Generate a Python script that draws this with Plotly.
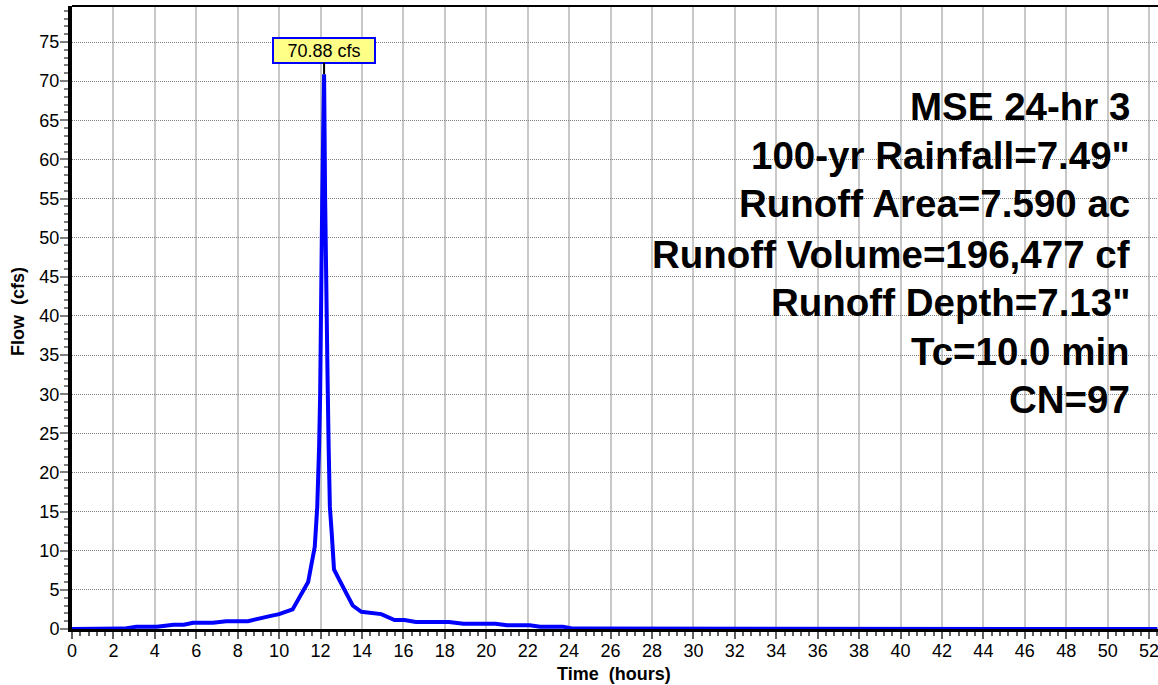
import plotly.graph_objects as go

# Hydrograph (time in hours, flow in cfs)
time_hr = [0, 2.5, 3.1, 4.1, 4.9, 5.4, 5.85, 6.8, 7.45, 8.5, 9.55, 10.0, 10.65,
           10.85, 11.4, 11.72, 11.76, 11.84, 11.93, 11.98, 12.08, 12.17,
           12.22, 12.28, 12.34, 12.39, 12.45, 12.54, 12.65, 12.9, 13.55, 13.97,
           14.93, 15.57, 16.05, 16.6, 18.2, 18.9, 20.45, 21.0, 22.1, 22.6,
           23.7, 24.2, 52.4]
flow_cfs = [0, 0.05, 0.3, 0.3, 0.55, 0.55, 0.8, 0.8, 1.0, 1.0, 1.65, 1.9, 2.5,
            3.5, 6.0, 10.5, 12.2, 15.6, 23.3, 30.0, 55.0, 70.88,
            55.0, 36.0, 31.8, 23.3, 15.6, 12.2, 7.6, 6.3, 3.0, 2.2,
            1.9, 1.15, 1.15, 0.9, 0.9, 0.68, 0.68, 0.47, 0.47, 0.3,
            0.3, 0.05, 0]

peak_time = 12.17
peak_flow = 70.88
peak_label = "70.88 cfs"

info_lines = ["MSE 24-hr 3", "100-yr Rainfall=7.49\"", "Runoff Area=7.590 ac",
              "Runoff Volume=196,477 cf", "Runoff Depth=7.13\"", "Tc=10.0 min", "CN=97"]

x_ticks = list(range(0, 53, 2))
y_ticks = list(range(0, 80, 5))

FONT = "Liberation Sans, Arial, sans-serif"

W, H = 1158, 685
ML, MR, MT, MB = 72, 0, 6, 56
PW = W - ML - MR
PH = H - MT - MB


def px_x(px):
    return (px - ML) / PW


def px_y(py):
    return (H - MB - py) / PH


fig = go.Figure()
fig.add_trace(go.Scatter(x=time_hr, y=flow_cfs, mode="lines",
                         line=dict(color="#0000ff", width=4),
                         hoverinfo="skip", showlegend=False))

fig.update_xaxes(
    range=[0, 52.43], tickmode="array", tickvals=x_ticks,
    ticktext=[str(v) for v in x_ticks],
    ticks="outside", ticklen=7, tickwidth=2, tickcolor="#606060",
    tickfont=dict(family=FONT, size=18, color="#000"),
    ticklabelstandoff=-4, ticklabeloverflow="allow",
    showline=True, linecolor="#000", linewidth=3,
    showgrid=True, gridcolor="#c8c8c8", gridwidth=1.5,
    zeroline=False,
    minor=dict(dtick=0.4, tick0=0, ticks="outside", ticklen=4, tickwidth=2,
               tickcolor="#606060", showgrid=False),
)
fig.update_yaxes(
    range=[0, 79.6], tickmode="array", tickvals=y_ticks,
    ticktext=[str(v) for v in y_ticks],
    ticks="outside", ticklen=8, tickwidth=2, tickcolor="#808080",
    tickfont=dict(family=FONT, size=18, color="#000"),
    ticklabelstandoff=-3,
    showline=True, linecolor="#000", linewidth=4,
    showgrid=True, gridcolor="#808080", gridwidth=1, griddash="1px,1px",
    zeroline=False,
    minor=dict(dtick=1, tick0=0, ticks="outside", ticklen=4, tickwidth=2,
               tickcolor="#808080", showgrid=False),
)

annotations = []
# peak label
annotations.append(dict(
    x=peak_time, y=peak_flow, xref="x", yref="y", text=peak_label,
    showarrow=True, arrowhead=0, arrowwidth=2, arrowcolor="#000",
    ax=0, ay=-24, standoff=0,
    font=dict(family=FONT, size=18, color="#000"),
    bgcolor="#ffff88", bordercolor="#0000ff", borderwidth=2, borderpad=2,
    width=96, height=19,
))

# info text block
line_centers = [106.0, 155.5, 204.0, 254.0, 302.5, 351.0, 399.5]
for txt, cy in zip(info_lines, line_centers):
    annotations.append(dict(
        x=px_x(1132), y=px_y(cy), xref="paper", yref="paper",
        xanchor="right", yanchor="middle", showarrow=False,
        text="<b>" + txt + "</b>",
        font=dict(family=FONT, size=38.5, color="#000"),
    ))

# axis titles
annotations.append(dict(
    x=px_x(614), y=px_y(674), xref="paper", yref="paper",
    xanchor="center", yanchor="middle", showarrow=False,
    text="<b>Time\u00a0 (hours)</b>",
    font=dict(family=FONT, size=18, color="#000"),
))
annotations.append(dict(
    x=px_x(18), y=px_y(312), xref="paper", yref="paper",
    xanchor="center", yanchor="middle", showarrow=False, textangle=-90,
    text="<b>Flow\u00a0 (cfs)</b>",
    font=dict(family=FONT, size=18, color="#000"),
))

fig.update_layout(
    width=W, height=H,
    margin=dict(l=ML, r=MR, t=MT, b=MB, autoexpand=False),
    paper_bgcolor="#ffffff", plot_bgcolor="#ffffff",
    annotations=annotations,
    shapes=[dict(type="line", xref="paper", yref="paper", x0=0, x1=1, y0=1, y1=1,
                 line=dict(color="#000", width=2))],
    showlegend=False,
)

fig.write_html("out.html")
